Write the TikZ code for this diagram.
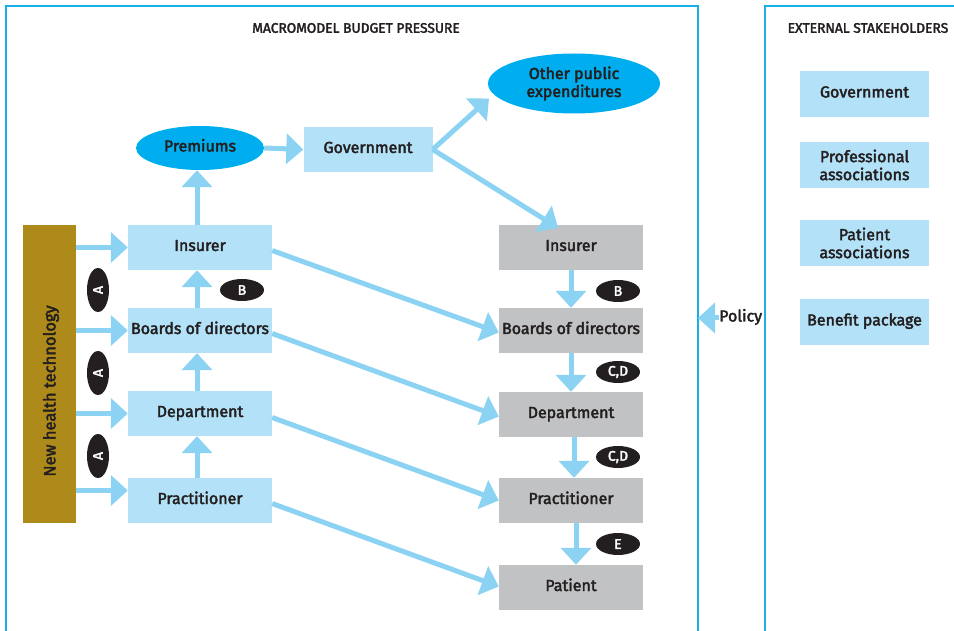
\documentclass[tikz,border=0pt]{standalone}
\usepackage{fontspec}
\setmainfont{Fira Sans}[BoldFont={Fira Sans},BoldFeatures={FakeBold=2.5}]
\usetikzlibrary{arrows.meta,shapes.geometric}
\definecolor{frameblue}{HTML}{1BAFE8}
\definecolor{boxblue}{HTML}{B3E2F8}
\definecolor{ellblue}{HTML}{00AEEF}
\definecolor{arrblue}{HTML}{8CD3F3}
\definecolor{boxgray}{HTML}{C1C2C4}
\definecolor{barcol}{HTML}{AD8A19}
\definecolor{txt}{HTML}{231F20}
\tikzset{
  frame/.style={draw=frameblue,line width=1.5pt},
  base/.style={text=txt,font=\fontsize{16}{18}\selectfont\bfseries,inner sep=0pt,align=center},
  oneline/.style={text height=12pt,text depth=5pt},
  lbox/.style={base,fill=boxblue,minimum width=144pt,minimum height=45pt},
  gbox/.style={base,fill=boxgray,minimum width=144pt,minimum height=45pt},
  sbox/.style={base,fill=boxblue,minimum width=129pt,minimum height=46pt},
  ell/.style={base,ellipse,fill=ellblue},
  tag/.style={ellipse,fill=txt,text=white,font=\fontsize{14}{16}\selectfont\bfseries,minimum width=44pt,minimum height=22pt,inner sep=0pt},
  arr/.style={draw=arrblue,line width=5pt,-{Triangle[length=17pt,width=30pt]}},
  title/.style={text=txt,font=\fontsize{13.8}{15}\selectfont\bfseries,inner sep=0pt}
}
\begin{document}
\begin{tikzpicture}[x=1pt,y=-1pt]
\useasboundingbox (0,0) rectangle (954,631);
% frames
\draw[frame] (6,640) -- (6,6) -- (698,6) -- (698,640);
\draw[frame] (765,640) -- (765,6) -- (970,6);
\node[title] (t1) at (356,28) {MACROMODEL BUDGET PRESSURE};
\node[title] (t2) at (868,28) {EXTERNAL STAKEHOLDERS};
% top
\node[ell,oneline,minimum width=128pt,minimum height=44pt] (prem) at (200,148) {Premiums};
\node[lbox,oneline,minimum width=129pt] (gov) at (368,149.5) {Government};
\node[ell,minimum width=172pt,minimum height=60pt] (oth) at (574,83.5) {Other public\\expenditures};
% left column
\node[lbox,oneline] (lins) at (200,247.5) {Insurer};
\node[lbox,oneline] (lbod) at (200,330.5) {Boards of directors};
\node[lbox,oneline] (ldep) at (200,413.5) {Department};
\node[lbox,oneline] (lpra) at (200,500.5) {Practitioner};
\node[fill=barcol,minimum width=53pt,minimum height=298pt,inner sep=0pt] (bar) at (49.5,374) {};
\node[base,rotate=90,font=\fontsize{16.5}{18}\selectfont\bfseries] (bartxt) at (51,391) {New health technology};
% right column
\node[gbox,oneline] (rins) at (571,247.5) {Insurer};
\node[gbox,oneline] (rbod) at (571,330.5) {Boards of directors};
\node[gbox,oneline] (rdep) at (571,414.5) {Department};
\node[gbox,oneline] (rpra) at (571,500.5) {Practitioner};
\node[gbox,oneline] (rpat) at (571,587.5) {Patient};
% external stakeholders
\node[sbox,oneline] (egov) at (864.5,94) {Government};
\node[sbox] (epro) at (864.5,165) {Professional\\associations};
\node[sbox] (epat) at (864.5,243) {Patient\\associations};
\node[sbox,oneline] (eben) at (864.5,322) {Benefit package};
% tags
\node[tag,rotate=90] (a1) at (98,290) {A};
\node[tag,rotate=90] (a2) at (98,373) {A};
\node[tag,rotate=90] (a3) at (98,456) {A};
\node[tag] (b1) at (242,290) {B};
\node[tag] (b2) at (618,291) {B};
\node[tag] (c1) at (618,372) {C,D};
\node[tag] (c2) at (618,457) {C,D};
\node[tag] (e1) at (618,544) {E};
% policy
\node[base,oneline,anchor=west] (pol) at (719,318) {Policy};
\coordinate (polend) at (698,318);
\coordinate (lpraIn) at ([yshift=10pt]lpra.west);
% arrows: bar to left boxes
\draw[arr] (bar.east |- lins.west) -- (lins.west);
\draw[arr] (bar.east |- lbod.west) -- (lbod.west);
\draw[arr] (bar.east |- ldep.west) -- (ldep.west);
\draw[arr] (bar.east |- lpraIn) -- (lpraIn);
% left vertical
\draw[arr] ([xshift=-3pt]lpra.north) -- ([xshift=-3pt]ldep.south);
\draw[arr] ([xshift=-3pt]ldep.north) -- ([xshift=-3pt]lbod.south);
\draw[arr] ([xshift=-3pt]lbod.north) -- ([xshift=-3pt]lins.south);
\draw[arr] ([xshift=-3pt]lins.north) -- ([xshift=-3pt]prem.south);
\draw[arr] (prem.east) -- (gov.west);
\draw[arr] (gov.east) -- ([xshift=-85pt,yshift=-15pt]oth.center);
\draw[arr] (gov.east) -- ([xshift=-13pt,yshift=-3pt]rins.north);
% diagonals
\draw[arr] ([yshift=-3pt]lins.east) -- ([yshift=-2pt]rbod.west);
\draw[arr] ([yshift=-3pt]lbod.east) -- ([yshift=-2pt]rdep.west);
\draw[arr] ([yshift=-4pt]ldep.east) -- (rpra.west);
\draw[arr] ([yshift=-3pt]lpra.east) -- ([yshift=1pt]rpat.west);
% right vertical
\draw[arr] (rins.south) -- (rbod.north);
\draw[arr] (rbod.south) -- (rdep.north);
\draw[arr] ([xshift=3pt]rdep.south) -- ([xshift=3pt]rpra.north);
\draw[arr] ([xshift=5pt]rpra.south) -- ([xshift=5pt]rpat.north);
% policy arrow
\draw[arr] (pol.west) -- (polend);
\end{tikzpicture}
\end{document}
